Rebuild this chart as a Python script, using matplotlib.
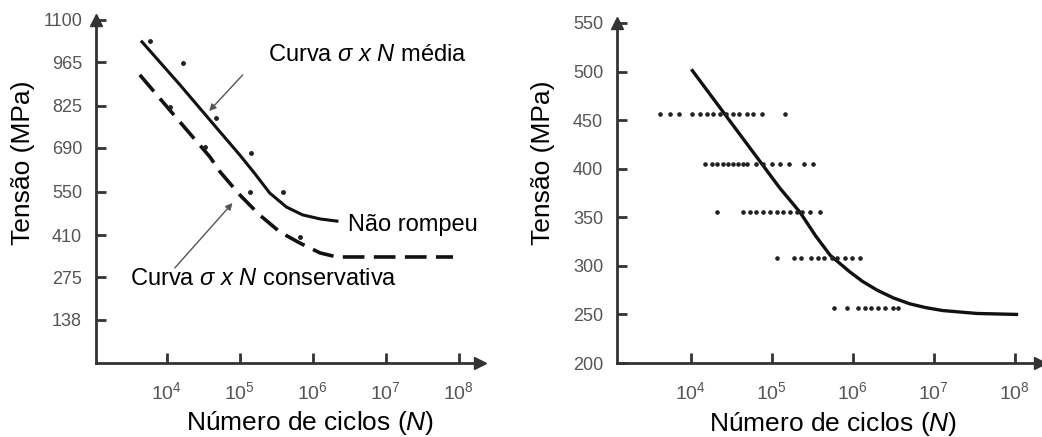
import numpy as np
import matplotlib.pyplot as plt

plt.rcParams['font.family'] = ['Liberation Sans', 'DejaVu Sans']
plt.rcParams['mathtext.fontset'] = 'custom'
plt.rcParams['mathtext.rm'] = 'Liberation Sans'
plt.rcParams['mathtext.it'] = 'Liberation Sans:italic'

# --- painel esquerdo: curvas sigma x N ---
media_logN = [3.66, 4.18, 4.66, 5.00, 5.21, 5.41, 5.64, 5.86, 6.10, 6.33]
media_s = [1030, 892, 760, 667, 606, 545, 500, 475, 462, 455]

cons_logN = [3.63, 4.11, 4.59, 4.73, 5.00, 5.27, 5.55, 5.82, 6.10, 6.33, 7.92]
cons_s = [924, 792, 661, 613, 539, 475, 420, 385, 353, 340, 340]

pts_logN = [3.77, 4.22, 4.67, 4.04, 4.52, 5.15, 5.14, 5.59, 5.82]
pts_s = [1033, 962, 786, 821, 693, 673, 548, 548, 404]

left_yticks = [138, 275, 410, 550, 690, 825, 965, 1100]

# --- painel direito: dados de ensaio ---
curve_logN = [4.02, 5.10, 5.35, 5.54, 5.72, 5.96, 6.12, 6.30, 6.50, 6.70, 6.90, 7.11, 7.53, 8.02]
curve_s = [501, 380, 355, 331, 311, 294, 284, 275, 267, 261, 257, 254, 251, 250]

row_logN = [
    [3.62, 3.74, 3.85, 4.02, 4.11, 4.20, 4.27, 4.36, 4.44, 4.52, 4.60, 4.69, 4.77, 4.88, 5.16],
    [4.17, 4.26, 4.33, 4.40, 4.46, 4.52, 4.58, 4.64, 4.70, 4.81, 4.89, 5.00, 5.10, 5.21, 5.40, 5.51],
    [4.32, 4.64, 4.73, 4.81, 4.89, 4.98, 5.06, 5.14, 5.22, 5.31, 5.37, 5.47, 5.59],
    [5.07, 5.27, 5.36, 5.49, 5.57, 5.65, 5.74, 5.81, 5.90, 5.99, 6.09],
    [5.77, 5.93, 6.06, 6.15, 6.23, 6.31, 6.40, 6.49, 6.56],
]
row_s = [456, 405, 355, 308, 257]

right_yticks = [200, 250, 300, 350, 400, 450, 500, 550]
xticks = [1e4, 1e5, 1e6, 1e7, 1e8]

W, H = 1042, 437
fig = plt.figure(figsize=(W / 100, H / 100), dpi=100)

axL = fig.add_axes([96 / W, (H - 363) / H, (480 - 96) / W, (363 - 20) / H])
axR = fig.add_axes([617 / W, (H - 363) / H, (1040 - 617) / W, (363 - 23) / H])

spine_c = '#333333'
tick_c = '#555555'


def style(ax, yticks, ylim, xlim):
    ax.set_xscale('log')
    ax.set_xlim(*xlim)
    ax.set_ylim(*ylim)
    for s in ['top', 'right']:
        ax.spines[s].set_visible(False)
    for s in ['left', 'bottom']:
        ax.spines[s].set_color(spine_c)
        ax.spines[s].set_linewidth(2)
    ax.set_xticks(xticks)
    ax.xaxis.set_minor_locator(plt.NullLocator())
    ax.set_yticks(yticks)
    ax.tick_params(direction='in', length=7, width=2, color=spine_c,
                   labelcolor=tick_c, labelsize=13)
    ax.tick_params(axis='x', pad=13, labelsize=14)
    ax.tick_params(axis='y', pad=10)
    ax.plot(1, 0, '>', color=spine_c, ms=8, transform=ax.transAxes, clip_on=False)
    ax.plot(0, 1, '^', color=spine_c, ms=8, transform=ax.transAxes, clip_on=False)
    ax.set_ylabel('Tensão (MPa)', fontsize=19)
    ax.set_xlabel('Número de ciclos ($\\mathit{N})$', fontsize=19)


style(axL, left_yticks, (0, 1100), (10 ** 3.03, 10 ** 8.29))
style(axR, right_yticks, (200, 550), (10 ** 3.09, 10 ** 8.31))

axL.yaxis.set_label_coords(-0.159, 0.583)
axL.xaxis.set_label_coords(0.557, -0.135)
axR.yaxis.set_label_coords(-0.147, 0.588)
axR.xaxis.set_label_coords(0.511, -0.137)

# esquerdo
axL.plot(10 ** np.array(media_logN), media_s, color='#111111', lw=2.2)
axL.plot(10 ** np.array(cons_logN), cons_s, color='#111111', lw=2.6,
         dashes=(6, 2.6))
axL.plot(10 ** np.array(pts_logN), pts_s, 'o', color='#222222', ms=2.5)

arrow = dict(arrowstyle='-|>', color='#555555', lw=1, shrinkA=0, shrinkB=0,
             mutation_scale=10)
axL.annotate('', xy=(10 ** 4.58, 808), xytext=(10 ** 5.04, 924), arrowprops=arrow)
axL.annotate('', xy=(10 ** 4.90, 513), xytext=(10 ** 4.11, 305), arrowprops=arrow)

txt = dict(fontsize=17, va='center', ha='left', clip_on=False)
axL.text(10 ** 5.38, 988, 'Curva $\\sigma\\ x\\ N$ média', **txt)
axL.text(10 ** 3.49, 269, 'Curva $\\sigma\\ x\\ N$ conservativa', **txt)
axL.text(10 ** 6.48, 443, 'Não rompeu', **txt)

# direito
axR.plot(10 ** np.array(curve_logN), curve_s, color='#111111', lw=2.4)
for xs, s in zip(row_logN, row_s):
    axR.plot(10 ** np.array(xs), [s] * len(xs), 'o', color='#222222', ms=2.3)

fig.savefig('out.png', dpi=100)
